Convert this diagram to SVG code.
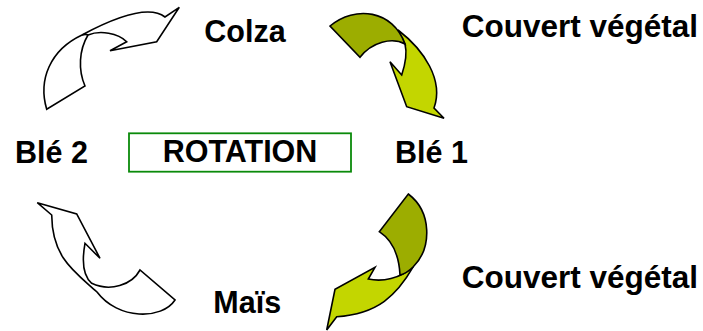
<svg xmlns="http://www.w3.org/2000/svg" width="703" height="331" viewBox="0 0 703 331">
  <style>
    .lbl { font-family: "Liberation Sans", Arial, sans-serif; font-weight: bold; font-size: 30.5px; fill: #000; }
    .big { font-size: 31.5px; }
    .arrow { stroke: #000; stroke-width: 1.6; stroke-linejoin: miter; }
    .white { fill: #fff; }
    .dark { fill: #9cad00; }
    .light { fill: #c3d600; }
  </style>
  <rect width="703" height="331" fill="#fff"/>

  <!-- curved arrows of the cycle -->
  <g id="connectors">
    <!-- Blé 2 -> Colza -->
    <g id="arrow-ble2-colza">
      <path class="arrow white" d="M 46.7,109.3 C 38,80 50,50 82,35 C 110,20 148,4 165,17 L 179.3,7.3 L 156.7,41.7 L 110,50.7 L 126.7,41.7 C 118,33 100,30 88,35 C 79,50 78,70 85,86 Z"/>
      <path class="arrow" fill="none" d="M 82,35 C 85,34 86,34 88,35"/>
    </g>
    <!-- Colza -> Blé 1 -->
    <g id="arrow-colza-ble1">
      <path class="arrow light" d="M 398,30 C 424,50 444,80 434,108 L 444,118.3 L 406.7,106.7 L 390,61.7 L 401.7,75 C 406,62 407,52 405,44 Z"/>
      <path class="arrow dark" d="M 330,26 C 355,5 393,10 405,44 C 392,37 372,42 360,57.3 Z"/>
    </g>
    <!-- Blé 1 -> Maïs -->
    <g id="arrow-ble1-mais">
      <path class="arrow light" d="M 368.3,279 C 382,282 400,279 413.3,266.7 C 397,295 378,314 336.7,316.7 L 326.7,330 L 335,289.3 L 375,267.3 Z"/>
      <path class="arrow dark" d="M 408.3,194 C 432,212 432,248 413.3,266.7 C 408,272 404,274 400,275 C 399,255 392,240 379.3,231.7 Z"/>
    </g>
    <!-- Maïs -> Blé 2 -->
    <g id="arrow-mais-ble2">
      <path class="arrow white" d="M 37.3,202.7 L 76.7,214 L 100,258.3 L 85,243.3 C 82,260 83,276 91.7,283.3 C 110,292 132,285 140,270 L 175,300 C 162,320 118,320 97,292 C 75,272 52,258 51.7,215 Z"/>
    </g>
  </g>

  <g id="node-rotation">
    <rect x="129" y="133.3" width="222" height="38.4" fill="#fff" stroke="#0a8a0a" stroke-width="1.8"/>
    <text class="lbl" x="240" y="162.3" text-anchor="middle">ROTATION</text>
  </g>
  <g id="node-colza">
    <text class="lbl" x="204.3" y="41.7">Colza</text>
  </g>
  <g id="node-couvert-1">
    <text class="lbl big" x="461.7" y="37">Couvert végétal</text>
  </g>
  <g id="node-ble1">
    <text class="lbl" x="395" y="163.3">Blé 1</text>
  </g>
  <g id="node-ble2">
    <text class="lbl" x="15" y="163.3">Blé 2</text>
  </g>
  <g id="node-couvert-2">
    <text class="lbl big" x="461.7" y="288.3">Couvert végétal</text>
  </g>
  <g id="node-mais">
    <text class="lbl" x="213.3" y="313.3">Maïs</text>
  </g>
</svg>
